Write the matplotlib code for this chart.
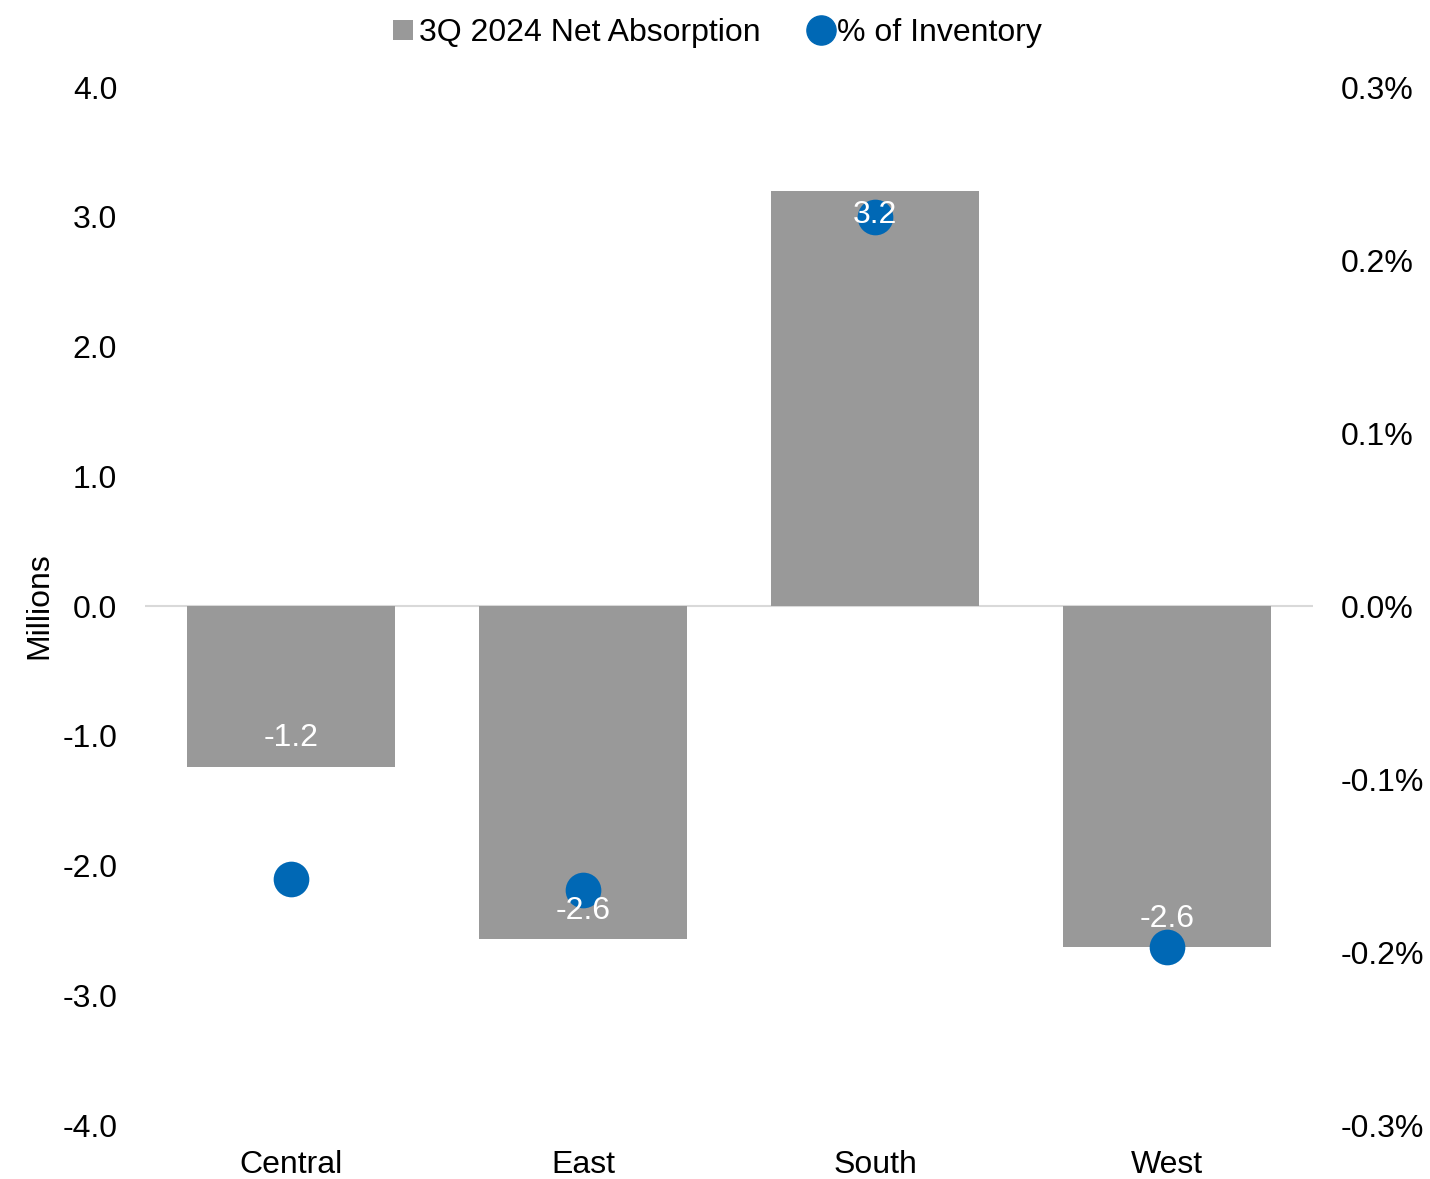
import matplotlib
matplotlib.use("Agg")
import matplotlib.pyplot as plt
from matplotlib.lines import Line2D
from matplotlib.patches import Patch
from matplotlib.ticker import FuncFormatter

plt.rcParams['font.family'] = ['Liberation Sans', 'DejaVu Sans']

regions = ["Central", "East", "South", "West"]
absorption = [-1.24, -2.57, 3.2, -2.63]        # millions
pct_inventory = [-0.158, -0.164, 0.225, -0.197]  # percent
labels = ["-1.2", "-2.6", "3.2", "-2.6"]

fs = 23
bar_color = "#999999"
dot_color = "#0068b5"

fig = plt.figure(figsize=(14.3, 11.79), dpi=100)
ax = fig.add_axes([0.1014, 0.0458, 0.8168, 0.8804])
x = list(range(len(regions)))

ax.bar(x, absorption, width=0.71, color=bar_color, zorder=2)
ax.axhline(0, color="#d9d9d9", lw=1.5, zorder=1)
ax.set_xlim(-0.5, 3.5)
ax.set_ylim(-4, 4)
ax.set_yticks([-4, -3, -2, -1, 0, 1, 2, 3, 4])
ax.yaxis.set_major_formatter(FuncFormatter(lambda v, p: f"{v:.1f}"))
ax.set_xticks(x)
ax.set_xticklabels(regions)
ax.tick_params(axis="both", length=0, labelsize=fs)
ax.tick_params(axis="y", pad=20)
ax.tick_params(axis="x", pad=18)
ax.set_ylabel("Millions", fontsize=fs, labelpad=6)
for s in ax.spines.values():
    s.set_visible(False)

ax2 = ax.twinx()
ax2.scatter(x, pct_inventory, s=660, color=dot_color, zorder=3, linewidths=0)
ax2.set_ylim(-0.3, 0.3)
ax2.set_yticks([-0.3, -0.2, -0.1, 0, 0.1, 0.2, 0.3])
ax2.yaxis.set_major_formatter(FuncFormatter(lambda v, p: f"{v:.1f}%"))
ax2.tick_params(axis="y", length=0, labelsize=fs, pad=20)
for s in ax2.spines.values():
    s.set_visible(False)

# data labels inside bar ends, drawn on top of the dots
for xi, v, lab in zip(x, absorption, labels):
    off = -0.19 if v > 0 else 0.22
    ax2.text(xi, (v + off) * 0.3 / 4, lab, ha="center", va="center",
             color="white", fontsize=fs, zorder=5)

handles = [Patch(facecolor=bar_color, label="3Q 2024 Net Absorption"),
           Line2D([], [], marker="o", ls="", color=dot_color, markersize=21,
                  label="% of Inventory")]
fig.legend(handles=handles, loc="center", bbox_to_anchor=(0.502, 0.972),
           ncol=2, frameon=False, fontsize=fs, handlelength=0.6,
           handletextpad=0.2, columnspacing=1.6, handleheight=0.6)

fig.savefig("out.png", dpi=100)
